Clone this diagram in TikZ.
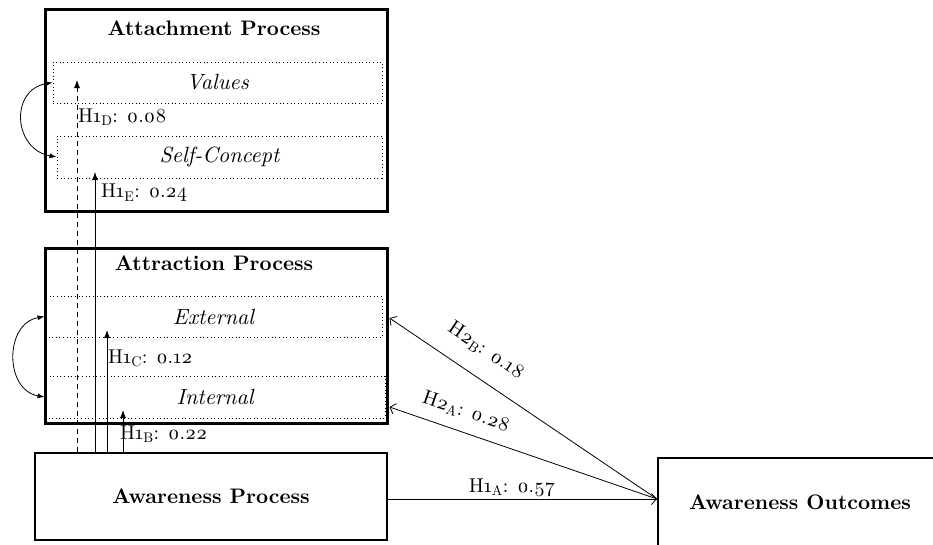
\documentclass[tikz,border=0pt]{standalone}
\usepackage{fontspec}
\setmainfont{lmroman10-regular.otf}[
  BoldFont=lmroman10-bold.otf,
  ItalicFont=lmroman10-italic.otf,
  BoldItalicFont=lmroman10-bolditalic.otf,
  Numbers=OldStyle]
\usetikzlibrary{arrows.meta}
\begin{document}
\begin{tikzpicture}[x=1pt,y=-1pt,
  procbox/.style={draw, line width=3pt, inner sep=0pt},
  basebox/.style={draw, line width=2pt, inner sep=0pt, font=\bfseries\fontsize{21}{25}\selectfont},
  rowbox/.style={draw, dash pattern=on 1pt off 2.6pt, line width=0.9pt, inner sep=0pt,
    font=\itshape\fontsize{22}{26}\selectfont},
  title/.style={font=\bfseries\fontsize{21}{25}\selectfont, inner sep=0pt},
  lab/.style={font=\fontsize{20}{24}\selectfont, inner sep=1pt},
  link/.style={line width=0.8pt, -{Latex[length=8pt,width=6pt]}},
  feedback/.style={line width=0.8pt, -{Straight Barb[length=5pt,width=11pt]}},
  corr/.style={line width=0.8pt, {Latex[length=7pt,width=5pt]}-{Latex[length=7pt,width=5pt]}}]
\useasboundingbox (0,0) rectangle (933,544);
\clip (0,0) rectangle (933,544);

% Attachment process
\node[procbox, minimum width=342pt, minimum height=202pt] (att) at (216,110) {};
\node[title] (attT) at (214,28) {Attachment Process};
\node[rowbox, minimum width=329pt, minimum height=41pt] (val) at (217.5,82.5) {Values};
\node[rowbox, minimum width=325pt, minimum height=42pt] (self) at (219.5,157) {Self-Concept};

% Attraction process
\node[procbox, minimum width=342pt, minimum height=175pt] (atr) at (216,335.5) {};
\node[title] (atrT) at (214,263) {Attraction Process};
\node[rowbox, minimum width=337pt, minimum height=41pt] (ext) at (213.5,316.5) {External};
\node[rowbox, minimum width=340pt, minimum height=42pt] (int) at (215,397) {Internal};

% Awareness boxes
\node[basebox, minimum width=352pt, minimum height=87pt] (ap) at (211,496.5) {Awareness Process};
\node[basebox, anchor=north west, minimum width=400pt, minimum height=160pt] (ao) at (657,457) {};
\node[title] (aoT) at (800,502) {Awareness Outcomes};

% correlations between sub-dimensions
\draw[corr] (val.west) to[out=190,in=170,looseness=1.5] (self.west);
\draw[corr] (ext.west) to[out=190,in=170,looseness=1.3] (int.west);

% paths from the awareness process
\coordinate (tD) at (77,80);
\coordinate (tE) at (95,172);
\coordinate (tC) at (107,330);
\coordinate (tB) at (123,410);
\draw[link, dash pattern=on 5pt off 4pt] (ap.north -| tD) -- (tD);
\draw[link] (ap.north -| tE) -- (tE);
\draw[link] (ap.north -| tC) -- (tC);
\draw[link] (ap.north -| tB) -- (tB);

\node[lab, anchor=west] (lD) at (77,117) {H1\textsubscript{D}: 0.08};
\node[lab, anchor=west] (lE) at (100,193) {H1\textsubscript{E}: 0.24};
\node[lab, anchor=west] (lC) at (107,358) {H1\textsubscript{C}: 0.12};
\node[lab, anchor=west] (lB) at (119,434) {H1\textsubscript{B}: 0.22};

% links into and out of the outcomes
\coordinate (src) at (ao.west |- 0,499);
\coordinate (hB) at (389.5,318);
\coordinate (hA) at (389.5,407);
\draw[feedback] (ap.east |- src) -- (src);
\draw[feedback] (src) -- (hB);
\draw[feedback] (src) -- (hA);

\node[lab] (lA1) at (512,488) {H1\textsubscript{A}: 0.57};
\node[lab, rotate=-34] (lB2) at (486,351) {H2\textsubscript{B}: 0.18};
\node[lab, rotate=-19] (lA2) at (466,412) {H2\textsubscript{A}: 0.28};
\end{tikzpicture}
\end{document}
